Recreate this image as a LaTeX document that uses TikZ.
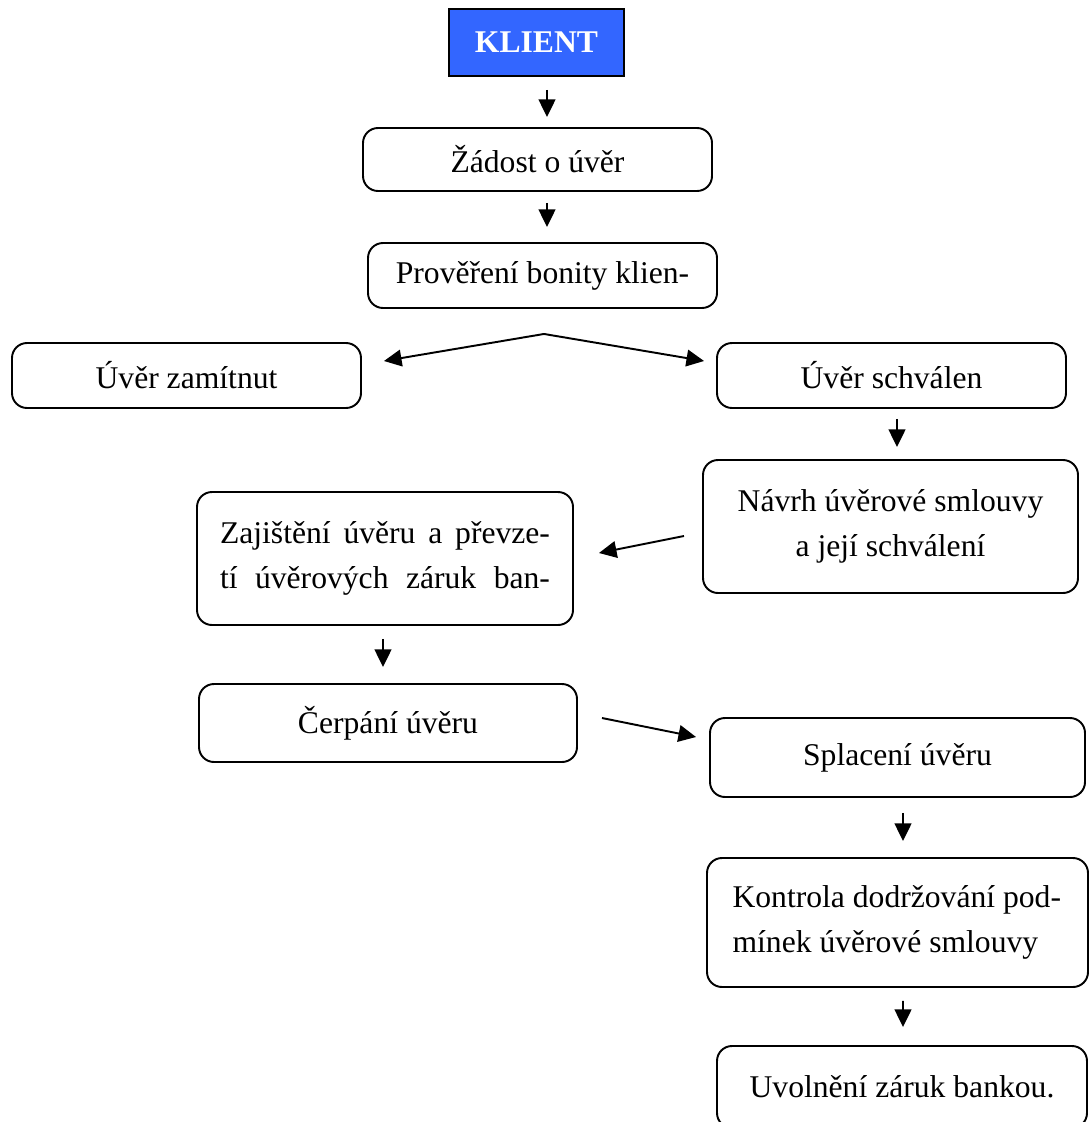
\documentclass[tikz,border=0pt]{standalone}
\usepackage{fontspec}
\setmainfont{Liberation Serif}
\usepackage{tikz}
\usetikzlibrary{arrows.meta,calc}
\definecolor{klientblue}{RGB}{51,102,255}

\tikzset{
  stepbox/.style={draw,line width=1.1pt,rounded corners=0.3cm,inner sep=0pt,
    align=center,font=\fontsize{18}{26}\selectfont},
  klientbox/.style={draw,line width=1.1pt,fill=klientblue,text=white,inner sep=0pt,
    font=\fontsize{18}{26}\selectfont\bfseries},
  arr/.style={line width=1.1pt,-{Triangle[length=10pt,width=9.5pt]}}
}

\begin{document}
\begin{tikzpicture}[x=0.02cm,y=-0.02cm]
    \clip (0,0) rectangle (1089,1122);
    \node[klientbox,minimum width=3.5cm,minimum height=1.34cm] (klient) at (536.5,42.5) {KLIENT};
    % rounded boxes: name / centre / size in px / text
    \foreach \nm/\x/\y/\w/\h/\txt in {
      zadost/537.5/159.5/349/63/{Žádost o úvěr},
      prover/542.5/275.5/349/65/{Prověření bonity klien-},
      zamitnut/186.5/375.5/349/65/{Úvěr zamítnut},
      schvalen/891.5/375.5/349/65/{Úvěr schválen},
      navrh/890.5/526.5/375/133/{Návrh úvěrové smlouvy\\a její schválení},
      zajisteni/385/558.5/376/133/{\makebox[6.6cm][s]{Zajištění úvěru a převze-}\\\makebox[6.6cm][s]{tí úvěrových záruk ban-}},
      cerpani/388/723/378/78/{Čerpání úvěru},
      splaceni/897.5/757.5/375/79/{Splacení úvěru},
      kontrola/897.5/922.5/381/129/{\makebox[6.6cm][l]{Kontrola dodržování pod-}\\\makebox[6.6cm][l]{mínek úvěrové smlouvy}},
      uvolneni/902/1087/370/82/{Uvolnění záruk bankou.}}{
      \node[stepbox,minimum width=\w*0.02cm,minimum height=\h*0.02cm] (\nm) at (\x,\y) {\txt};
    }
    \coordinate (fork) at ($(prover.south)+(1.5,25)$);
    \draw[arr] ($(klient.south)+(10.5,13)$) -- ($(zadost.north)+(9.5,-10)$);
    \draw[arr] ($(zadost.south)+(9.5,11)$) -- ($(prover.north)+(4.5,-15)$);
    \draw[arr] (fork) -- ($(zamitnut.east)+(22,-14.5)$);
    \draw[arr] (fork) -- ($(schvalen.west)+(-12,-14.5)$);
    \draw[arr] ($(schvalen.south)+(5.5,10)$) -- ($(navrh.north)+(6.5,-12)$);
    \draw[arr] ($(navrh.west)+(-18,9.5)$) -- ($(zajisteni.east)+(25,-5.5)$);
    \draw[arr] ($(zajisteni.south)+(-2,13)$) -- ($(cerpani.north)+(-5,-16)$);
    \draw[arr] ($(cerpani.east)+(24,-5)$) -- ($(splaceni.west)+(-13,-20.5)$);
    \draw[arr] ($(splaceni.south)+(5.5,15)$) -- ($(kontrola.north)+(5.5,-16)$);
    \draw[arr] ($(kontrola.south)+(5.5,13)$) -- ($(uvolneni.north)+(1,-18)$);
\end{tikzpicture}
\end{document}
